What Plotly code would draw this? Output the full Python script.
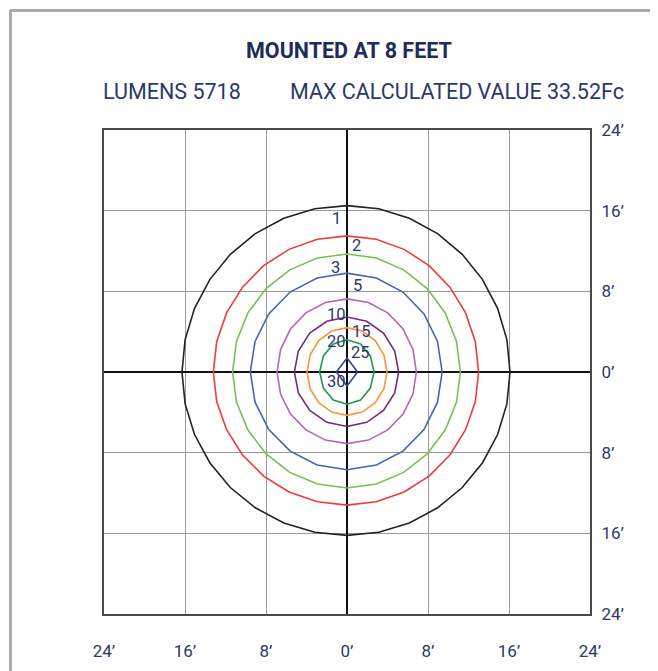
import numpy as np
import plotly.graph_objects as go

# ---------------- data ----------------
levels = [1, 2, 3, 5, 10, 15, 20, 25, 30]             # footcandle levels
r_top = [16.5, 13.5, 11.7, 9.8, 7.25, 5.45, 4.4, 3.2, 1.38]     # ft
r_right = [16.1, 13.0, 11.2, 9.4, 6.85, 5.1, 3.95, 2.67, 1.05]
r_bottom = [16.2, 13.2, 11.5, 9.7, 7.1, 5.4, 4.3, 3.2, 1.38]
r_left = [16.3, 13.2, 11.3, 9.55, 6.9, 5.2, 3.95, 2.7, 1.05]
vertices = [32, 28, 24, 20, 20, 16, 16, 12, 4]
colors = ["#222222", "#f03a3a", "#78c050", "#4563b8", "#bb62bb",
          "#762a86", "#f7963a", "#1f9a55", "#34409e"]
label_x = [-1.0, 0.95, -1.15, 1.05, -1.0, 1.4, -1.0, 1.35, -1.0]
label_y = [15.2, 12.5, 10.4, 8.55, 5.7, 4.0, 3.05, 1.95, -0.95]

tick_vals = [-24, -16, -8, 0, 8, 16, 24]
tick_text = ["24\u2019", "16\u2019", "8\u2019", "0\u2019", "8\u2019", "16\u2019", "24\u2019"]

title = "<b>MOUNTED AT 8 FEET</b>"
lumens_text = "LUMENS 5718"
max_text = "MAX CALCULATED VALUE 33.52Fc"

# ---------------- layout geometry ----------------
OFF = 8                      # page body margin
W, H = 658 - OFF, 671 - OFF
ML, MT = 104 - OFF, 130 - OFF
PW, PH = 486, 484
MR, MB = W - ML - PW, H - MT - PH


def px_x(p):
    return (p - OFF - ML) / PW


def px_y(p):
    return 1 - (p - OFF - MT) / PH


NAVY = "#2b3969"

fig = go.Figure()
for i, lv in enumerate(levels):
    t = np.linspace(0, 2 * np.pi, vertices[i] + 1)
    c, s = np.cos(t), np.sin(t)
    xs = np.where(c >= 0, r_right[i], r_left[i]) * c
    ys = np.where(s >= 0, r_top[i], r_bottom[i]) * s
    xs = np.round(xs, 6)
    ys = np.round(ys, 6)
    fig.add_trace(go.Scatter(x=xs, y=ys, mode="lines",
                             line=dict(color=colors[i], width=1.6),
                             hoverinfo="skip", showlegend=False))

for i, lv in enumerate(levels):
    fig.add_annotation(x=label_x[i], y=label_y[i], text=str(lv), showarrow=False,
                       xref="x", yref="y",
                       font=dict(family="Roboto", size=16.5, color=NAVY))

fig.add_annotation(x=px_x(349), y=px_y(50), xref="paper", yref="paper",
                   text=title, showarrow=False, xanchor="center", yanchor="middle",
                   font=dict(family="Roboto", size=21.5, color="#1f2c5b"))
fig.add_annotation(x=px_x(101), y=px_y(92), xref="paper", yref="paper",
                   text=lumens_text, showarrow=False, xanchor="left", yanchor="middle",
                   font=dict(family="Roboto", size=21.5, color=NAVY))
fig.add_annotation(x=px_x(626), y=px_y(92), xref="paper", yref="paper",
                   text=max_text, showarrow=False, xanchor="right", yanchor="middle",
                   font=dict(family="Roboto", size=21.5, color=NAVY))

# page border (top and left)
fig.add_shape(type="line", xref="paper", yref="paper",
              x0=px_x(10), x1=px_x(700), y0=px_y(10.5), y1=px_y(10.5),
              line=dict(color="#ababab", width=3))
fig.add_shape(type="line", xref="paper", yref="paper",
              x0=px_x(10.5), x1=px_x(10.5), y0=px_y(10), y1=px_y(700),
              line=dict(color="#ababab", width=3))

axis_common = dict(range=[-24, 24], tickvals=tick_vals, ticktext=tick_text,
                   showgrid=True, gridcolor="#9a9a9a", gridwidth=1,
                   zeroline=True, zerolinecolor="#111111", zerolinewidth=1.5,
                   showline=True, mirror=True, linecolor="#454a4a", linewidth=2,
                   ticks="", tickfont=dict(family="Roboto", size=17, color=NAVY),
                   fixedrange=True)

fig.update_xaxes(**axis_common, ticklabelstandoff=21)
fig.update_yaxes(**axis_common, side="right", ticklabelstandoff=6)

fig.update_layout(width=W, height=H,
                  margin=dict(l=ML, r=MR, t=MT, b=MB, autoexpand=False),
                  paper_bgcolor="white", plot_bgcolor="white",
                  showlegend=False)

fig.write_html("out.html")
